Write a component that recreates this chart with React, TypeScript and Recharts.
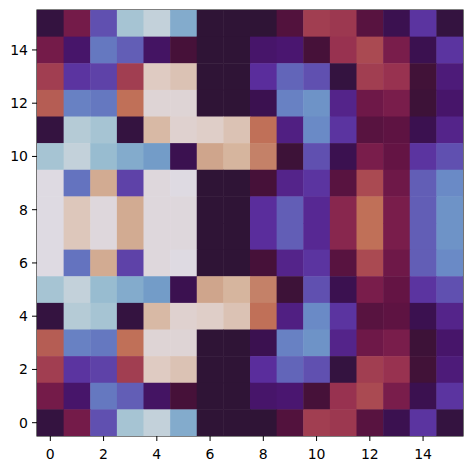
import { ScatterChart, Scatter, XAxis, YAxis, ReferenceArea } from 'recharts';

// cell values, top row (y = 15) first, 16 columns each
const grid: number[][] = [
  [0.02, 0.87, 0.2, 0.42, 0.46, 0.37, 0.0, 0.0, 0.0, 0.93, 0.78, 0.79, 0.92, 0.05, 0.16, 0.02],
  [0.87, 0.09, 0.26, 0.22, 0.08, 0.95, 0.0, 0.0, 0.09, 0.1, 0.95, 0.8, 0.76, 0.86, 0.05, 0.16],
  [0.78, 0.16, 0.18, 0.78, 0.55, 0.57, 0.0, 0.0, 0.15, 0.23, 0.2, 0.02, 0.78, 0.8, 0.96, 0.11],
  [0.73, 0.28, 0.26, 0.7, 0.52, 0.52, 0.0, 0.0, 0.05, 0.28, 0.32, 0.13, 0.88, 0.86, 0.97, 0.09],
  [0.02, 0.44, 0.42, 0.02, 0.59, 0.53, 0.54, 0.57, 0.7, 0.12, 0.3, 0.16, 0.92, 0.91, 0.05, 0.13],
  [0.42, 0.46, 0.4, 0.37, 0.34, 0.05, 0.63, 0.6, 0.68, 0.97, 0.2, 0.05, 0.86, 0.9, 0.16, 0.2],
  [0.5, 0.25, 0.62, 0.18, 0.51, 0.5, 0.0, 0.0, 0.95, 0.13, 0.16, 0.92, 0.76, 0.88, 0.22, 0.3],
  [0.5, 0.56, 0.51, 0.62, 0.51, 0.51, 0.0, 0.0, 0.15, 0.22, 0.14, 0.83, 0.7, 0.86, 0.22, 0.32],
  [0.5, 0.56, 0.51, 0.62, 0.51, 0.51, 0.0, 0.0, 0.15, 0.22, 0.14, 0.83, 0.7, 0.86, 0.22, 0.32],
  [0.5, 0.25, 0.62, 0.18, 0.51, 0.5, 0.0, 0.0, 0.95, 0.13, 0.16, 0.92, 0.76, 0.88, 0.22, 0.3],
  [0.42, 0.46, 0.4, 0.37, 0.34, 0.05, 0.63, 0.6, 0.68, 0.97, 0.2, 0.05, 0.86, 0.9, 0.16, 0.2],
  [0.02, 0.44, 0.42, 0.02, 0.59, 0.53, 0.54, 0.57, 0.7, 0.12, 0.3, 0.16, 0.92, 0.91, 0.05, 0.13],
  [0.73, 0.28, 0.26, 0.7, 0.52, 0.52, 0.0, 0.0, 0.05, 0.28, 0.32, 0.13, 0.88, 0.86, 0.97, 0.09],
  [0.78, 0.16, 0.18, 0.78, 0.55, 0.57, 0.0, 0.0, 0.15, 0.23, 0.2, 0.02, 0.78, 0.8, 0.96, 0.11],
  [0.87, 0.09, 0.26, 0.22, 0.08, 0.95, 0.0, 0.0, 0.09, 0.1, 0.95, 0.8, 0.76, 0.86, 0.05, 0.16],
  [0.02, 0.87, 0.2, 0.42, 0.46, 0.37, 0.0, 0.0, 0.0, 0.93, 0.78, 0.79, 0.92, 0.05, 0.16, 0.02],
];

const ticks = [0, 2, 4, 6, 8, 10, 12, 14];

// twilight_shifted-like colormap stops
const stops: [number, string][] = [
  [0.0, '#2f1436'],
  [0.05, '#3b1150'],
  [0.1, '#4a1670'],
  [0.15, '#5a2d9c'],
  [0.2, '#6050b0'],
  [0.25, '#6473bf'],
  [0.3, '#6a8ac6'],
  [0.35, '#75a0c9'],
  [0.4, '#98bcd0'],
  [0.45, '#bccfd8'],
  [0.5, '#dedae2'],
  [0.55, '#dfcbc2'],
  [0.6, '#d6b59e'],
  [0.65, '#cb9b80'],
  [0.7, '#c07058'],
  [0.75, '#ae5052'],
  [0.8, '#983250'],
  [0.85, '#7e1f4d'],
  [0.9, '#641444'],
  [0.95, '#461139'],
  [1.0, '#2f1436'],
];

const hex = (h: string) => [1, 3, 5].map((i) => parseInt(h.slice(i, i + 2), 16));

function colorFor(v: number) {
  for (let i = 1; i < stops.length; i++) {
    const [v1, c1] = stops[i];
    const [v0, c0] = stops[i - 1];
    if (v <= v1) {
      const t = (v - v0) / (v1 - v0);
      const a = hex(c0);
      const b = hex(c1);
      const m = a.map((x, k) => Math.round(x + (b[k] - x) * t));
      return `rgb(${m[0]},${m[1]},${m[2]})`;
    }
  }
  return stops[stops.length - 1][1];
}

const cells = grid.flatMap((row, r) => row.map((v, c) => ({ x: c, y: 15 - r, v })));

const W = 465;
const H = 460;
const CELL = 426 / 16;

const Cell = (props: any) => {
  const { cx, cy, payload } = props;
  return (
    <rect
      x={cx - CELL / 2}
      y={cy - CELL / 2}
      width={CELL + 0.5}
      height={CELL + 0.5}
      fill={colorFor(payload.v)}
    />
  );
};

const tickStyle = { fontFamily: 'DejaVu Sans', fontSize: 14, fill: '#000' };

export default function App() {
  return (
    <ScatterChart width={W} height={H} margin={{ top: 2, right: 10, bottom: 2, left: 0 }}>
      <XAxis
        type="number"
        dataKey="x"
        domain={[-0.5, 15.5]}
        ticks={ticks}
        interval={0}
        tickSize={5}
        tickMargin={8}
        tick={tickStyle}
        tickLine={{ stroke: '#000' }}
        axisLine={false}
        height={30}
        allowDataOverflow
      />
      <YAxis
        type="number"
        dataKey="y"
        domain={[-0.5, 15.5]}
        ticks={ticks}
        interval={0}
        tickSize={5}
        tickMargin={4}
        tick={tickStyle}
        tickLine={{ stroke: '#000' }}
        axisLine={false}
        width={29}
        allowDataOverflow
      />
      <Scatter data={cells} shape={Cell} isAnimationActive={false} />
      <ReferenceArea
        x1={-0.5}
        x2={15.5}
        y1={-0.5}
        y2={15.5}
        fill="none"
        stroke="#000"
        strokeWidth={1.1}
        ifOverflow="visible"
      />
    </ScatterChart>
  );
}
